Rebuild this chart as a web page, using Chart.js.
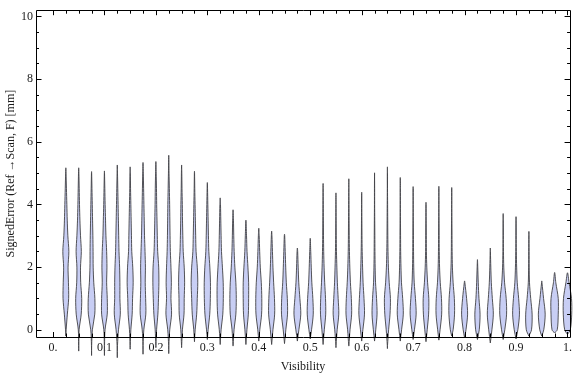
<!DOCTYPE html>
<html>
<head>
<meta charset="utf-8">
<script src="https://cdn.jsdelivr.net/npm/chart.js@4/dist/chart.umd.min.js"></script>
<style>
  html, body { margin: 0; padding: 0; background: #fff; }
</style>
</head>
<body>
<canvas id="chart" width="576" height="377"></canvas>
<script>
// Violin positions (Visibility) and the extent of each distribution
const visibility = [0.025, 0.05, 0.075, 0.1, 0.125, 0.15, 0.175, 0.2, 0.225, 0.25,
                    0.275, 0.3, 0.325, 0.35, 0.375, 0.4, 0.425, 0.45, 0.475, 0.5,
                    0.525, 0.55, 0.575, 0.6, 0.625, 0.65, 0.675, 0.7, 0.725, 0.75,
                    0.775, 0.8, 0.825, 0.85, 0.875, 0.9, 0.925, 0.95, 0.975, 1.0];
const errMax = [5.17, 5.17, 5.05, 5.07, 5.26, 5.2, 5.34, 5.37, 5.57, 5.26,
                5.06, 4.7, 4.21, 3.83, 3.5, 3.24, 3.15, 3.05, 2.61, 2.92,
                4.67, 4.37, 4.82, 4.39, 5.01, 5.2, 4.86, 4.57, 4.07, 4.58,
                4.54, 1.56, 2.24, 2.61, 3.71, 3.61, 3.14, 1.56, 1.83, 1.82];
const errMin = [-0.2, -0.68, -0.82, -0.82, -0.89, -0.62, -0.78, -0.57, -0.76, -0.57,
                -0.38, -0.31, -0.47, -0.52, -0.47, -0.36, -0.47, -0.44, -0.36, -0.29,
                -0.47, -0.57, -0.52, -0.36, -0.36, -0.6, -0.36, -0.31, -0.38, -0.33,
                -0.2, -0.26, -0.31, -0.42, -0.31, -0.29, -0.2, -0.2, -0.1, -0.15];

// Relative density of each violin at these error levels
const densityLevels = [-0.5, 0, 0.5, 1, 1.5, 2, 2.5, 3, 3.5, 4, 4.5, 5];
const density = [
  [0, 0.3, 1.5, 2.8, 2.6, 2.2, 3.0, 2.0, 1.4, 1.0, 0.6, 0.2],
  [0.1, 0.4, 2.5, 3.0, 2.0, 1.8, 2.6, 1.8, 1.2, 0.8, 0.5, 0.2],
  [0.1, 0.8, 3.2, 3.3, 2.2, 1.6, 1.5, 1.3, 1.0, 0.7, 0.4, 0.1],
  [0.1, 0.6, 2.8, 2.8, 2.2, 2.5, 2.2, 1.5, 1.1, 0.7, 0.4, 0.1],
  [0.2, 1.2, 3.0, 2.6, 2.6, 2.3, 1.7, 1.4, 1.1, 0.8, 0.5, 0.2],
  [0.1, 0.7, 2.0, 2.4, 3.0, 2.6, 1.6, 1.3, 1.0, 0.7, 0.4, 0.2],
  [0.1, 0.8, 2.8, 2.6, 2.2, 2.4, 2.0, 1.5, 1.2, 0.9, 0.6, 0.3],
  [0.1, 0.7, 2.0, 2.6, 3.0, 2.8, 1.8, 1.4, 1.1, 0.8, 0.6, 0.3],
  [0.1, 1.0, 2.8, 2.2, 2.6, 2.2, 1.6, 1.3, 1.1, 0.9, 0.6, 0.3],
  [0.1, 0.8, 2.4, 2.6, 3.0, 2.6, 1.6, 1.2, 0.9, 0.7, 0.4, 0.2],
  [0.1, 0.7, 2.2, 2.8, 3.3, 2.8, 1.6, 1.2, 0.9, 0.6, 0.3, 0.1],
  [0.1, 0.8, 2.4, 3.0, 3.1, 2.5, 1.5, 1.1, 0.8, 0.5, 0.2, 0],
  [0.1, 0.9, 2.6, 3.1, 3.0, 2.2, 1.3, 0.9, 0.6, 0.3, 0, 0],
  [0.1, 1.0, 2.8, 3.2, 2.8, 1.8, 1.1, 0.7, 0.4, 0, 0, 0],
  [0.1, 1.0, 2.4, 2.7, 2.7, 2.0, 1.1, 0.6, 0.2, 0, 0, 0],
  [0.1, 1.0, 2.8, 3.0, 2.5, 1.5, 0.9, 0.4, 0, 0, 0, 0],
  [0.1, 1.3, 3.0, 2.8, 2.0, 1.3, 0.8, 0.3, 0, 0, 0, 0],
  [0.1, 1.3, 3.0, 2.8, 1.8, 1.2, 0.7, 0.2, 0, 0, 0, 0],
  [0.1, 1.5, 3.4, 2.5, 1.4, 0.8, 0.3, 0, 0, 0, 0, 0],
  [0.1, 1.3, 3.0, 2.6, 1.6, 1.0, 0.5, 0, 0, 0, 0, 0],
  [0.1, 1.2, 2.6, 2.4, 1.6, 1.0, 0.6, 0.4, 0.3, 0.2, 0.1, 0],
  [0.1, 1.2, 2.8, 2.2, 1.4, 0.9, 0.5, 0.3, 0.2, 0.1, 0, 0],
  [0.1, 1.2, 2.8, 2.5, 1.6, 1.0, 0.6, 0.4, 0.3, 0.2, 0.1, 0],
  [0.1, 1.2, 2.8, 2.3, 1.4, 0.9, 0.5, 0.3, 0.2, 0.1, 0, 0],
  [0.1, 1.2, 2.5, 2.0, 1.0, 0.6, 0.4, 0.3, 0.2, 0.1, 0.1, 0],
  [0.1, 1.2, 2.6, 3.0, 1.8, 1.0, 0.6, 0.4, 0.3, 0.2, 0.1, 0.1],
  [0.1, 1.3, 3.0, 2.4, 1.2, 0.7, 0.4, 0.3, 0.2, 0.1, 0.1, 0],
  [0.1, 1.3, 3.0, 2.3, 1.1, 0.6, 0.4, 0.3, 0.2, 0.1, 0.1, 0],
  [0.1, 1.2, 2.6, 2.8, 1.6, 0.8, 0.4, 0.3, 0.2, 0.1, 0, 0],
  [0.1, 1.2, 2.8, 2.6, 1.4, 0.7, 0.4, 0.3, 0.2, 0.1, 0.1, 0],
  [0.1, 1.4, 2.8, 2.6, 1.4, 0.7, 0.4, 0.3, 0.2, 0.1, 0.1, 0],
  [0.1, 1.4, 3.0, 2.0, 0.3, 0, 0, 0, 0, 0, 0, 0],
  [0.1, 1.8, 2.6, 1.5, 0.8, 0.3, 0, 0, 0, 0, 0, 0],
  [0.1, 1.6, 3.0, 2.0, 1.0, 0.5, 0.1, 0, 0, 0, 0, 0],
  [0.1, 1.6, 3.4, 3.0, 1.4, 0.6, 0.3, 0.2, 0.1, 0, 0, 0],
  [0.1, 1.8, 3.4, 2.6, 1.2, 0.6, 0.3, 0.2, 0.1, 0, 0, 0],
  [0.1, 2.6, 3.2, 1.8, 0.6, 0.3, 0.2, 0.1, 0, 0, 0, 0],
  [0.1, 2.0, 3.4, 1.8, 0.2, 0, 0, 0, 0, 0, 0, 0],
  [0.1, 2.6, 3.6, 3.6, 1.2, 0, 0, 0, 0, 0, 0, 0],
  [0.1, 2.8, 4.2, 4.0, 1.6, 0, 0, 0, 0, 0, 0, 0]
];

const xTicks = [0, 0.1, 0.2, 0.3, 0.4, 0.5, 0.6, 0.7, 0.8, 0.9, 1.0];
const yTicks = [0, 2, 4, 6, 8, 10];

const HALF = 0.00195; // x units per density unit (about one pixel)
const FILL = 'rgb(200, 206, 244)';
const EDGE = 'rgba(65, 65, 70, 0.9)';
const SERIF = "'Liberation Serif', 'DejaVu Serif', serif";

// closed outline: right side going up, left side coming back down
function outline(i) {
    const c = visibility[i];
    const prof = [[errMin[i], 0]];
    densityLevels.forEach((lv, j) => {
        if (lv > errMin[i] && lv < errMax[i]) prof.push([lv, density[i][j]]);
    });
    prof.push([errMax[i], 0]);
    const right = prof.map(([y, d]) => ({ x: c + d * HALF, y }));
    const left = prof.slice().reverse().map(([y, d]) => ({ x: c - d * HALF, y }));
    return right.concat(left.slice(1));
}

// Mathematica style frame with inward ticks on all four sides
const framePlugin = {
    id: 'frame',
    afterDraw(chart) {
        const { ctx, chartArea: a, scales: { x, y } } = chart;
        ctx.save();
        ctx.strokeStyle = '#000';
        ctx.lineWidth = 1;
        ctx.beginPath();
        for (let k = 0; k <= 40; k++) {
            const px = Math.round(x.getPixelForValue(k * 0.025)) + 0.5;
            const len = k % 4 === 0 ? 5 : 3.5;
            ctx.moveTo(px, a.bottom); ctx.lineTo(px, a.bottom - len);
            ctx.moveTo(px, a.top); ctx.lineTo(px, a.top + len);
        }
        for (let k = 0; k <= 20; k++) {
            const py = Math.round(y.getPixelForValue(k * 0.5)) + 0.5;
            const len = k % 4 === 0 ? 5.5 : 3;
            ctx.moveTo(a.left, py); ctx.lineTo(a.left + len, py);
            ctx.moveTo(a.right, py); ctx.lineTo(a.right - len, py);
        }
        ctx.stroke();
        ctx.beginPath();
        ctx.rect(Math.round(a.left) + 0.5, Math.round(a.top) + 0.5,
                 Math.round(a.right - a.left), Math.round(a.bottom - a.top));
        ctx.stroke();
        ctx.restore();
    }
};

const datasets = visibility.map((v, i) => ({
    data: outline(i),
    showLine: true,
    fill: 'shape',
    backgroundColor: FILL,
    borderColor: EDGE,
    borderWidth: 1,
    pointRadius: 0,
    tension: 0.3,
    clip: false
}));

new Chart(document.getElementById('chart'), {
    type: 'scatter',
    data: { datasets },
    options: {
        responsive: false,
        animation: false,
        devicePixelRatio: 1,
        layout: { padding: { top: 5, right: 2, left: 0, bottom: 0 } },
        elements: { line: { capBezierPoints: false } },
        plugins: { legend: { display: false }, tooltip: { enabled: false } },
        scales: {
            x: {
                type: 'linear',
                min: -0.033,
                max: 1.005,
                afterBuildTicks: s => { s.ticks = xTicks.map(value => ({ value })); },
                afterFit: s => { s.height = 40; },
                grid: { display: false, drawTicks: false },
                border: { display: false },
                ticks: {
                    padding: 4,
                    color: '#1a1a1a',
                    font: { family: SERIF, size: 12 },
                    callback: v => (v === 0 ? '0.' : v === 1 ? '1.' : v.toFixed(1))
                },
                title: {
                    display: true,
                    text: 'Visibility',
                    color: '#1a1a1a',
                    font: { family: SERIF, size: 12 },
                    padding: { top: 0, bottom: 3 }
                }
            },
            y: {
                type: 'linear',
                min: -0.23,
                max: 10.2,
                afterBuildTicks: s => { s.ticks = yTicks.map(value => ({ value })); },
                afterFit: s => { s.width = 36; },
                grid: { display: false, drawTicks: false },
                border: { display: false },
                ticks: {
                    padding: 3,
                    color: '#1a1a1a',
                    font: { family: SERIF, size: 12 }
                },
                title: {
                    display: true,
                    text: 'SignedError (Ref →Scan, F) [mm]',
                    color: '#1a1a1a',
                    font: { family: SERIF, size: 12 },
                    padding: { top: 4, bottom: 0 }
                }
            }
        }
    },
    plugins: [framePlugin]
});
</script>
</body>
</html>
